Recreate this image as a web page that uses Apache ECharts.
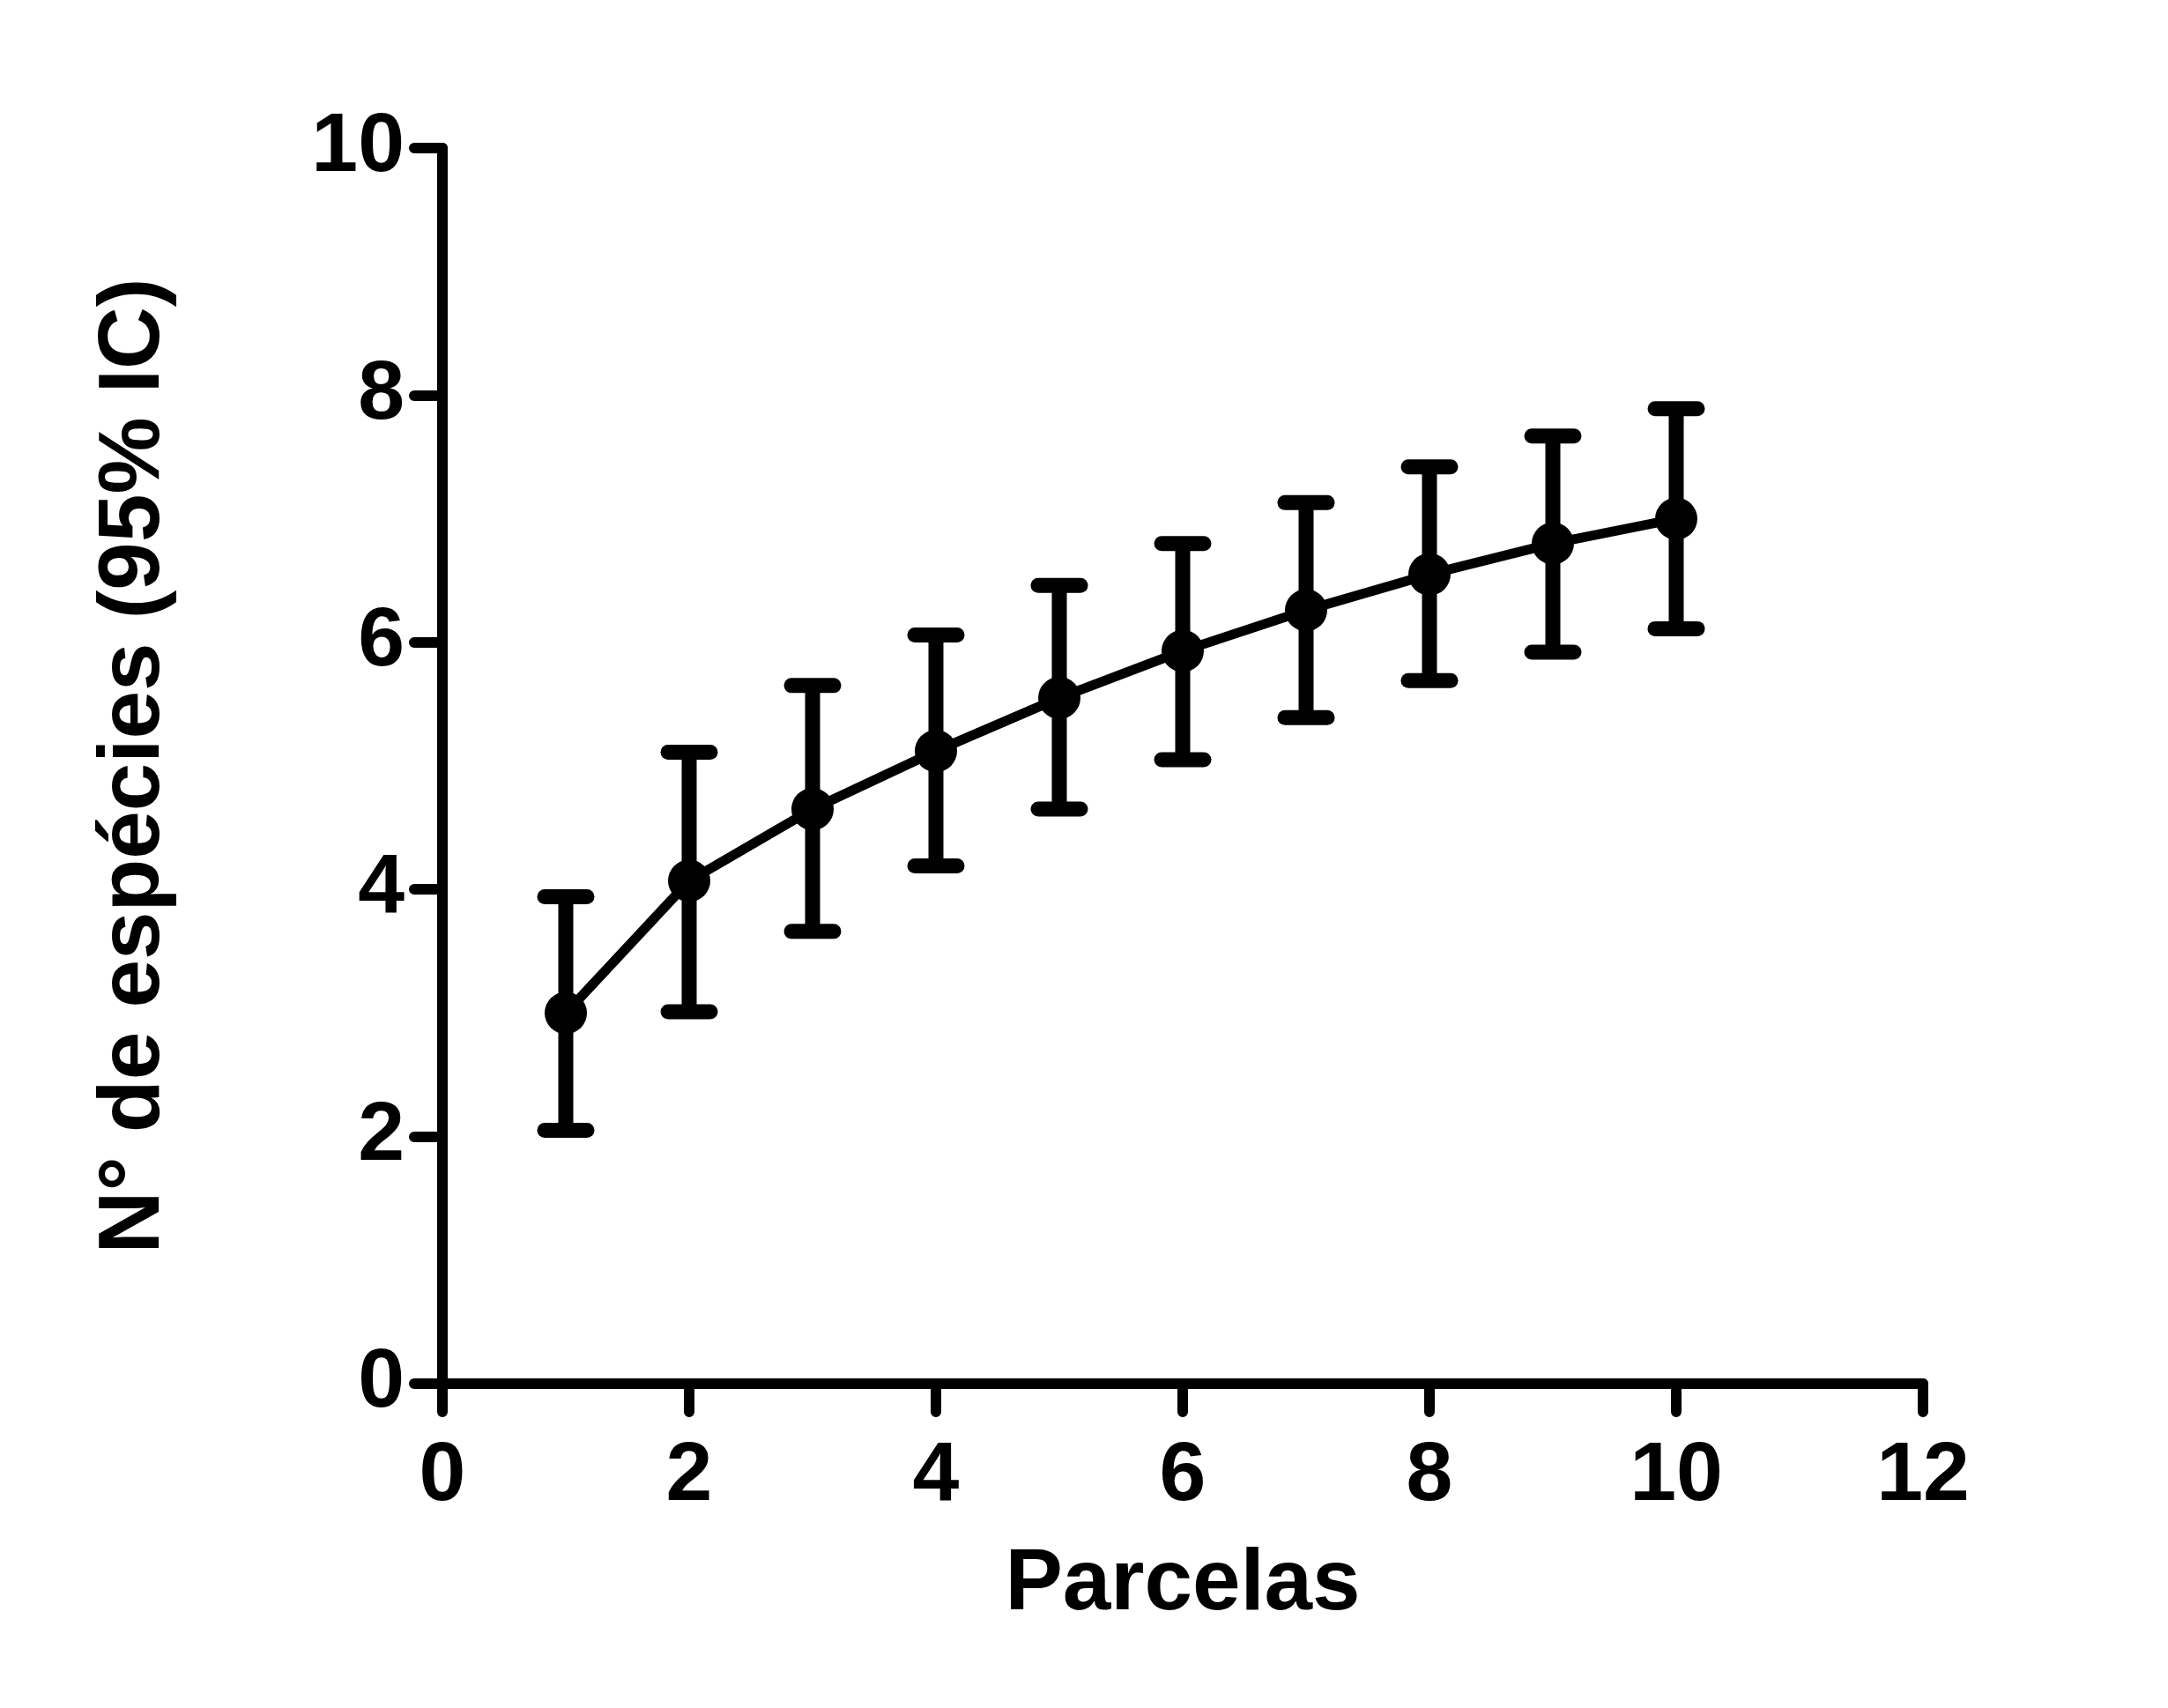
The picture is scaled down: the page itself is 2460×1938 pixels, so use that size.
<!DOCTYPE html>
<html>
<head>
<meta charset="utf-8">
<script src="https://cdn.jsdelivr.net/npm/echarts@6/dist/echarts.min.js"></script>
<style>
  html, body { margin: 0; padding: 0; background: #fff; }
  #chart { width: 2460px; height: 1938px; }
</style>
</head>
<body>
<div id="chart"></div>
<script>
// curva de acumulação de espécies por parcela, com IC 95%
var parcelas = [1, 2, 3, 4, 5, 6, 7, 8, 9, 10];
var especies = [3.00, 4.07, 4.65, 5.12, 5.55, 5.93, 6.26, 6.55, 6.80, 7.00];
var icInferior = [2.05, 3.01, 3.66, 4.19, 4.65, 5.05, 5.39, 5.69, 5.92, 6.11];
var icSuperior = [3.94, 5.11, 5.65, 6.06, 6.46, 6.80, 7.13, 7.42, 7.67, 7.89];

var xTitulo = 'Parcelas';
var yTitulo = 'N° de espécies (95% IC)';

var fonte = '"Liberation Sans", Arial, sans-serif';

var myChart = echarts.init(document.getElementById('chart'));

var pontos = parcelas.map(function (p, i) { return [p, especies[i]]; });
var barras = parcelas.map(function (p, i) { return [p, icInferior[i], icSuperior[i]]; });

function eixo(min, max, extra) {
  var o = {
    type: 'value',
    min: min,
    max: max,
    interval: 2,
    nameLocation: 'middle',
    nameTextStyle: { fontFamily: fonte, fontWeight: 'bold', fontSize: 98, color: '#000' },
    splitLine: { show: false },
    axisLine: { show: true, lineStyle: { color: '#000', width: 12, cap: 'round' } },
    axisTick: { show: true, inside: false, length: 32, lineStyle: { color: '#000', width: 12, cap: 'round' } },
    axisLabel: { fontFamily: fonte, fontWeight: 'bold', fontSize: 95, color: '#000' }
  };
  for (var k in extra) o[k] = extra[k];
  return o;
}

var xEixo = eixo(0, 12, { name: xTitulo, nameGap: 180 });
xEixo.axisLabel.margin = 58;
var yEixo = eixo(0, 10, { name: yTitulo, nameGap: 300 });
yEixo.axisLabel.margin = 43;

var option = {
  backgroundColor: '#fff',
  animation: false,
  grid: { left: 502, right: 278, top: 168, bottom: 368, containLabel: false },
  xAxis: xEixo,
  yAxis: yEixo,
  series: [
    {
      type: 'custom',
      data: barras,
      encode: { x: 0, y: [1, 2] },
      z: 2,
      renderItem: function (params, api) {
        var lo = api.coord([api.value(0), api.value(1)]);
        var hi = api.coord([api.value(0), api.value(2)]);
        var meia = 24;
        var traco = { stroke: '#000', lineWidth: 17 };
        var tampa = { stroke: '#000', lineWidth: 17, lineCap: 'round' };
        return {
          type: 'group',
          children: [
            { type: 'line', shape: { x1: lo[0], y1: lo[1], x2: hi[0], y2: hi[1] }, style: traco },
            { type: 'line', shape: { x1: hi[0] - meia, y1: hi[1], x2: hi[0] + meia, y2: hi[1] }, style: tampa },
            { type: 'line', shape: { x1: lo[0] - meia, y1: lo[1], x2: lo[0] + meia, y2: lo[1] }, style: tampa }
          ]
        };
      }
    },
    {
      type: 'line',
      data: pontos,
      z: 3,
      symbol: 'circle',
      symbolSize: 48,
      itemStyle: { color: '#000' },
      lineStyle: { color: '#000', width: 11 }
    }
  ]
};
myChart.setOption(option);
</script>
</body>
</html>
